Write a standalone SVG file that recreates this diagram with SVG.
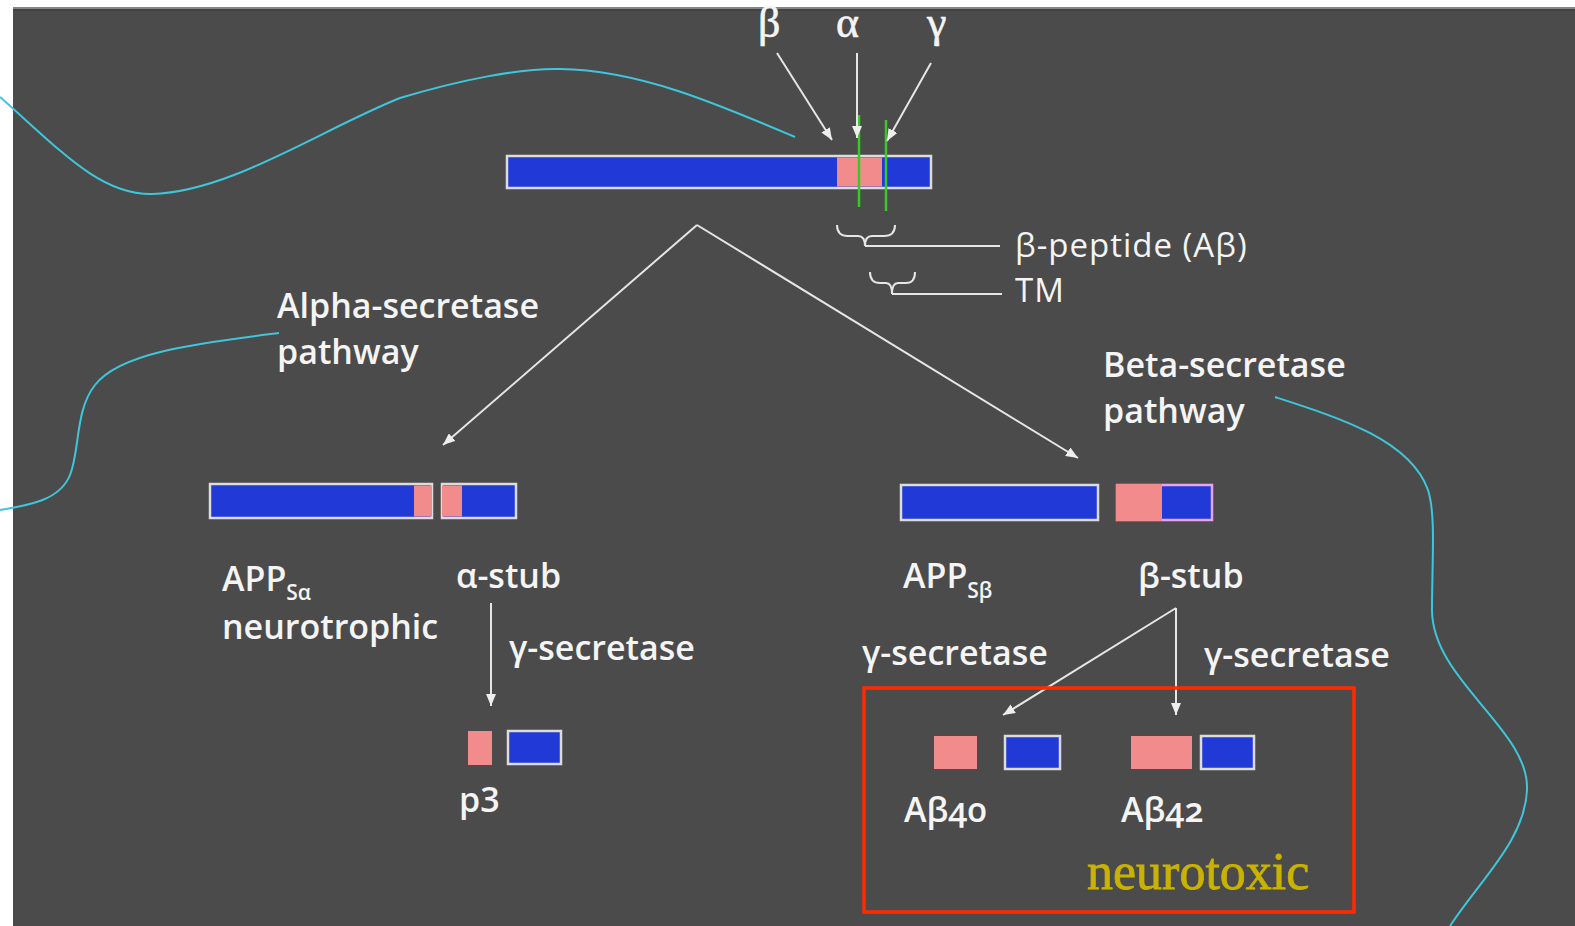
<svg xmlns="http://www.w3.org/2000/svg" width="1575" height="926" viewBox="0 0 1575 926">
<style>
.lbl{font-family:"Open Sans","Liberation Sans",sans-serif;font-size:34px;font-weight:600;fill:#f4f4f4;}
.sub{font-size:21px;}
.greek{font-family:"Liberation Serif","DejaVu Serif",serif;font-size:44px;fill:#f4f4f4;stroke:#f4f4f4;stroke-width:0.6;}
.tox{font-family:"Liberation Serif","DejaVu Serif",serif;font-size:52px;fill:#c9b300;stroke:#c9b300;stroke-width:0.8;}
.blue{fill:#2139d6;stroke:#dcdcdc;stroke-width:2.5;}
.pink{fill:#f28b8b;}
.ln{stroke:#e6e6e6;stroke-width:2;fill:none;}
.arr{stroke:#e6e6e6;stroke-width:2;fill:none;marker-end:url(#ah);}
.cyan{stroke:#3ec6da;stroke-width:2;fill:none;}
.green{stroke:#33cc22;stroke-width:2.5;}
.thin{font-size:33px;font-weight:500;letter-spacing:1px;}
</style>
<defs>
<marker id="ah" markerUnits="userSpaceOnUse" markerWidth="12" markerHeight="10" refX="12" refY="5" orient="auto">
<path d="M0,0 L12,5 L0,10 z" fill="#eeeeee"/>
</marker>
</defs>
<rect x="0" y="0" width="1575" height="926" fill="#ffffff"/>
<rect x="13" y="7" width="1562" height="919" fill="#4b4b4b"/>
<line x1="13" y1="8" x2="1575" y2="8" stroke="#858585" stroke-width="2"/>
<line x1="13" y1="10" x2="1575" y2="10" stroke="#424242" stroke-width="2"/>

<g id="cyan-curves">
<path class="cyan" d="M0,97 C60,150 100,195 152,194 C230,192 320,130 400,98 C460,80 520,68 560,69 C640,70 720,105 795,137"/>
<path class="cyan" d="M279,333 C200,343 120,352 95,385 C75,410 80,450 70,475 C60,500 30,505 0,510"/>
<path class="cyan" d="M1275,397 C1340,418 1410,440 1428,490 C1436,515 1432,560 1432,610 C1432,680 1530,730 1527,790 C1525,840 1480,880 1450,926"/>
</g>

<g id="app-full">
<rect class="blue" x="507" y="156" width="424" height="32"/>
<rect class="pink" x="837" y="157.5" width="45" height="29"/>
<line class="green" x1="859" y1="115" x2="859" y2="207"/>
<line class="green" x1="886" y1="120" x2="886" y2="211"/>
</g>

<g id="secretase-labels">
<text class="greek" x="758" y="37">β</text>
<text class="greek" x="836" y="37">α</text>
<text class="greek" x="927" y="37">γ</text>
</g>

<g id="braces">
<path class="ln" d="M837,225 Q837,236 848,236 L858,236 Q865,236 865,246 Q865,236 872,236 L884,236 Q895,236 895,225"/>
<path class="ln" d="M865,246 L1000,246"/>
<path class="ln" d="M870,272 Q870,283 880,283 L886,283 Q892,283 892,294 Q892,283 898,283 L906,283 Q915,283 915,272"/>
<path class="ln" d="M892,294 L1002,294"/>
<text class="lbl thin" x="1015" y="257">β-peptide (Aβ)</text>
<text class="lbl thin" x="1015" y="302">TM</text>
</g>

<g id="connectors">
<path class="arr" d="M777,53 L832,140"/>
<path class="arr" d="M857,53 L857,138"/>
<path class="arr" d="M931,63 L887,141"/>
<path class="arr" d="M697,225 L443,445"/>
<path class="arr" d="M697,225 L1078,458"/>
<path class="arr" d="M491,603 L491,706"/>
<path class="arr" d="M1176,608 L1003,715"/>
<path class="arr" d="M1176,608 L1176,715"/>
</g>

<g id="alpha-pathway">
<text class="lbl" x="277" y="318">Alpha-secretase</text>
<text class="lbl" x="277" y="364">pathway</text>
</g>

<g id="beta-pathway">
<text class="lbl" x="1103" y="377">Beta-secretase</text>
<text class="lbl" x="1103" y="423">pathway</text>
</g>

<g id="app-s-alpha">
<rect class="blue" x="210" y="484" width="222" height="34"/>
<rect class="pink" x="414" y="485.5" width="18" height="31"/>
<text class="lbl" x="222" y="591">APP<tspan class="sub" dy="9">Sα</tspan></text>
<text class="lbl" x="222" y="639">neurotrophic</text>
</g>

<g id="alpha-stub">
<rect class="blue" x="442" y="484" width="74" height="34"/>
<rect class="pink" x="442" y="485.5" width="20" height="31"/>
<text class="lbl" x="456" y="588">α-stub</text>
<text class="lbl" x="509" y="660">γ-secretase</text>
</g>

<g id="p3">
<rect class="pink" x="468" y="731" width="24" height="34"/>
<rect class="blue" x="508" y="731" width="53" height="33"/>
<text class="lbl" x="459" y="812">p3</text>
</g>

<g id="app-s-beta">
<rect class="blue" x="901" y="485" width="197" height="35"/>
<text class="lbl" x="903" y="588">APP<tspan class="sub" dy="10">Sβ</tspan></text>
</g>

<g id="beta-stub">
<rect x="1117" y="485" width="95" height="35" fill="#2139d6" stroke="#e7a6e7" stroke-width="2.5"/>
<rect class="pink" x="1116" y="484" width="46" height="37"/>
<text class="lbl" x="1138" y="588">β-stub</text>
<text class="lbl" x="862" y="665">γ-secretase</text>
<text class="lbl" x="1204" y="667">γ-secretase</text>
</g>

<g id="neurotoxic-box">
<rect x="864" y="688" width="490" height="224" fill="none" stroke="#ff2a00" stroke-width="3.5"/>
<rect class="pink" x="934" y="736" width="43" height="33"/>
<rect class="blue" x="1005" y="736" width="55" height="33"/>
<rect class="pink" x="1131" y="736" width="61" height="33"/>
<rect class="blue" x="1201" y="736" width="53" height="33"/>
<text class="lbl" x="904" y="822" style="font-variant-numeric:oldstyle-nums">Aβ40</text>
<text class="lbl" x="1121" y="822" style="font-variant-numeric:oldstyle-nums">Aβ42</text>
<text class="tox" x="1087" y="889">neurotoxic</text>
</g>
</svg>
